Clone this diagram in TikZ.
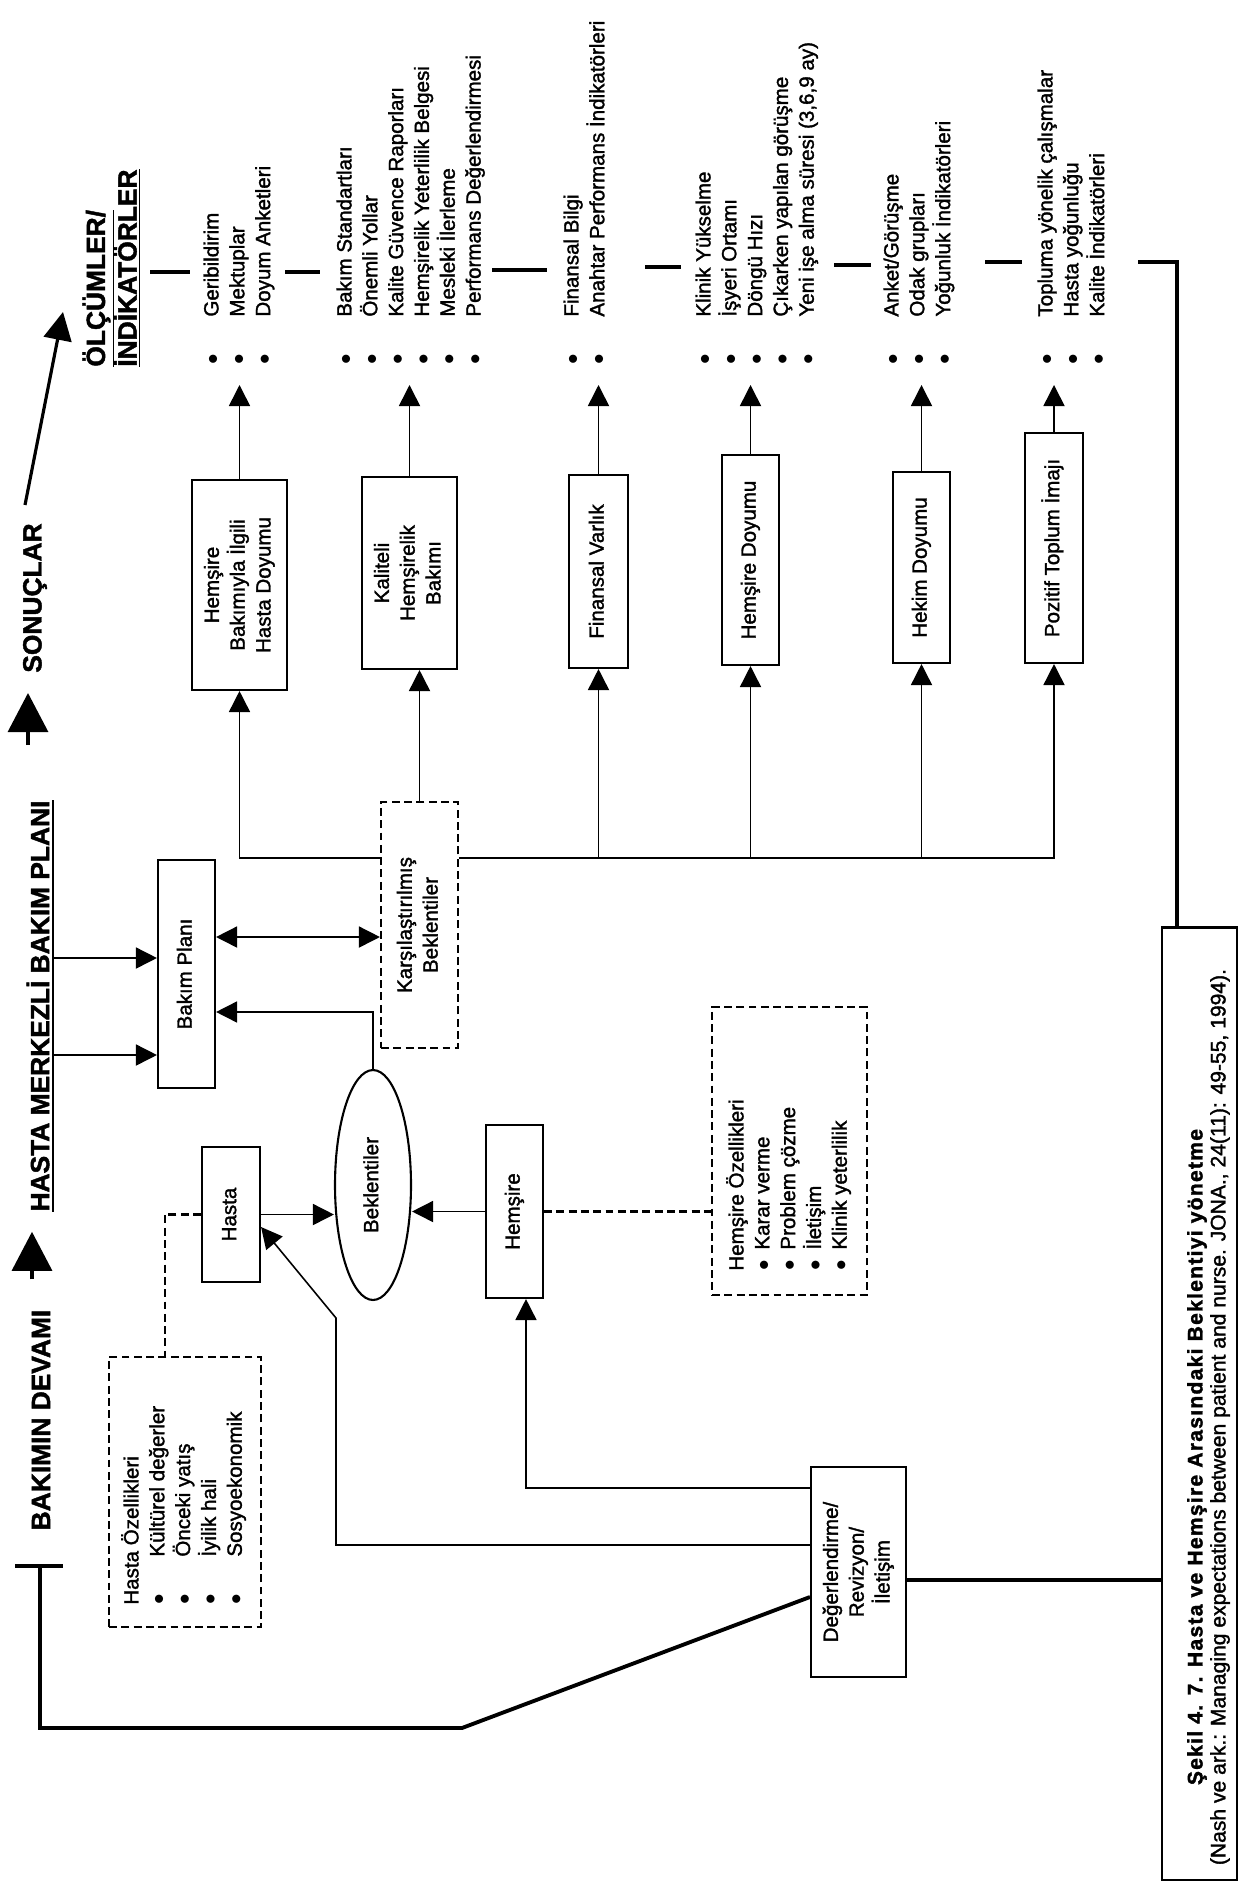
\documentclass[tikz,border=0pt]{standalone}
\usepackage{fontspec}
\setmainfont{Liberation Sans}
\newfontfamily\kalinyazi{Liberation Sans}[FakeBold=1.6]
\usepackage{graphicx}
\usetikzlibrary{shapes.geometric,arrows.meta}

\newcommand{\govde}{\kalinyazi\fontsize{11.7pt}{14.7pt}\selectfont}
\newcommand{\baslik}{\fontsize{15pt}{17pt}\selectfont\bfseries}
\newcommand{\dik}[1]{\rotatebox{90}{\begin{tabular}{@{}c@{}}#1\end{tabular}}}
\newcommand{\dikliste}[2]{\rotatebox{90}{\begin{tabular}{@{}l@{\hspace{#1}}l@{}}#2\end{tabular}}}

\tikzset{
  kutu/.style={draw, line width=1.2pt, inner sep=0pt},
  kesik/.style={draw, line width=1.2pt, dash pattern=on 4.5pt off 2.5pt, inner sep=0pt},
  kesikcizgi/.style={line width=1.2pt, dash pattern=on 4.5pt off 2.5pt},
  ok/.style={line width=0.9pt, -{Triangle[length=12pt,width=12pt]}},
  ciftok/.style={line width=0.9pt, {Triangle[length=12pt,width=12pt]}-{Triangle[length=12pt,width=12pt]}},
  ok2/.style={line width=1.8pt, -{Triangle[length=0.56cm,width=0.56cm]}},
  buyukok/.style={line width=1.8pt, -{Triangle[length=0.78cm,width=0.8cm]}},
  kalin/.style={line width=2.2pt},
}

\begin{document}
\begin{tikzpicture}[x=0.02cm, y=-0.02cm, font=\govde]
\useasboundingbox (0,0) rectangle (1239,1886);

% basliklar
\node[inner sep=0, anchor=south] (olc) at (114,367) {\baslik\rotatebox{90}{\begin{tabular}{@{}l@{}}\underline{ÖLÇÜMLER/}\\\underline{İNDİKATÖRLER}\end{tabular}}};
\node[inner sep=0] (son) at (35,598) {\baslik\rotatebox{90}{SONUÇLAR}};
\node[inner sep=0] (hm) at (38,1006) {\baslik\rotatebox{90}{HASTA MERKEZLİ BAKIM PLANI}};
\node[inner sep=0] (bd) at (41,1420) {\baslik\rotatebox{90}{BAKIMIN DEVAMI}};
\draw[line width=1.2pt] ([xshift=0.06cm]hm.north east) -- ([xshift=0.06cm]hm.south east);

\draw[buyukok, shorten <=0.6cm, shorten >=0.4cm] ([xshift=-0.18cm]bd.north) -- ([xshift=-0.18cm]bd.north |- hm.south);
\draw[buyukok, shorten <=1.1cm, shorten >=0.4cm] ([xshift=-0.2cm]hm.north) -- ([xshift=-0.2cm]hm.north |- son.south);
\coordinate (oc) at (63,312);
\draw[ok2] ([xshift=-0.2cm,yshift=0.36cm]son.north) -- (oc);

% sonuclar
\node[kutu, minimum width=1.9cm, minimum height=4.2cm] (b1) at (239.5,585) {\dik{Hemşire\\Bakımıyla İlgili\\Hasta Doyumu}};
\node[kutu, minimum width=1.9cm, minimum height=3.84cm] (b2) at (409.5,573) {\dik{Kaliteli\\Hemşirelik\\Bakımı}};
\node[kutu, minimum width=1.18cm, minimum height=3.86cm] (b3) at (598.5,571.5) {\dik{Finansal Varlık}};
\node[kutu, minimum width=1.14cm, minimum height=4.2cm] (b4) at (750.5,560) {\dik{Hemşire Doyumu}};
\node[kutu, minimum width=1.14cm, minimum height=3.82cm] (b5) at (921.5,567.5) {\dik{Hekim Doyumu}};
\node[kutu, minimum width=1.16cm, minimum height=4.6cm] (b6) at (1054,548) {\dik{Pozitif Toplum İmajı}};

% olcumler
\node[inner sep=0, anchor=south west] (l1) at (200,365) {\dikliste{0.75cm}{$\bullet$ & Geribildirim\\ $\bullet$ & Mektuplar\\ $\bullet$ & Doyum Anketleri}};
\node[inner sep=0, anchor=south west] (l2) at (333,365) {\dikliste{0.75cm}{$\bullet$ & Bakım Standartları\\ $\bullet$ & Önemli Yollar\\ $\bullet$ & Kalite Güvence Raporları\\ $\bullet$ & Hemşirelik Yeterlilik Belgesi\\ $\bullet$ & Mesleki İlerleme\\ $\bullet$ & Performans Değerlendirmesi}};
\node[inner sep=0, anchor=south west] (l3) at (560,365) {\dikliste{0.75cm}{$\bullet$ & Finansal Bilgi\\ $\bullet$ & Anahtar Performans İndikatörleri}};
\node[inner sep=0, anchor=south west] (l4) at (692,365) {\dikliste{0.75cm}{$\bullet$ & Klinik Yükselme\\ $\bullet$ & İşyeri Ortamı\\ $\bullet$ & Döngü Hızı\\ $\bullet$ & Çıkarken yapılan görüşme\\ $\bullet$ & Yeni işe alma süresi (3,6,9 ay)}};
\node[inner sep=0, anchor=south west] (l5) at (880,365) {\dikliste{0.75cm}{$\bullet$ & Anket/Görüşme\\ $\bullet$ & Odak grupları\\ $\bullet$ & Yoğunluk İndikatörleri}};
\node[inner sep=0, anchor=south west] (l6) at (1034,365) {\dikliste{0.75cm}{$\bullet$ & Topluma yönelik çalışmalar\\ $\bullet$ & Hasta yoğunluğu\\ $\bullet$ & Kalite İndikatörleri}};

\foreach \b/\l in {b1/l1,b2/l2,b3/l3,b4/l4,b5/l5,b6/l6}
  \draw[ok, shorten >=0.4cm] (\b.north) -- (\b.north |- \l.south);

% ayraclar
\foreach \a/\b/\y in {150/190/272, 285/320/272, 492/547/270, 645/681/267, 834/871/265, 985/1022/262}
  \draw[kalin] (\a,\y) -- (\b,\y);

% bakim plani ve beklentiler
\node[kutu, minimum width=1.14cm, minimum height=4.56cm] (bp) at (186.5,974) {\dik{Bakım Planı}};
\node[kesik, minimum width=1.54cm, minimum height=4.92cm] (kb) at (419.5,925) {\dik{Karşılaştırılmış\\Beklentiler}};
\node[kutu, ellipse, minimum width=1.52cm, minimum height=4.6cm] (bek) at (373,1185) {\dik{Beklentiler}};
\node[kutu, minimum width=1.16cm, minimum height=2.7cm] (has) at (231,1214.5) {\dik{Hasta}};
\node[kutu, minimum width=1.14cm, minimum height=3.46cm] (hem) at (514.5,1211.5) {\dik{Hemşire}};
\node[kutu, minimum width=1.9cm, minimum height=4.2cm] (deg) at (858.5,1572) {\dik{Değerlendirme/\\Revizyon/\\İletişim}};

\node[kesik, minimum width=3.04cm, minimum height=5.4cm] (hao) at (185,1492) {};
\node[inner sep=0, anchor=south west] (haot) at (120,1605) {\dikliste{0.75cm}{\multicolumn{2}{@{}l@{}}{Hasta Özellikleri}\\ $\bullet$ & Kültürel değerler\\ $\bullet$ & Önceki yatış\\ $\bullet$ & İyilik hali\\ $\bullet$ & Sosyoekonomik}};
\node[kesik, minimum width=3.1cm, minimum height=5.76cm] (ho) at (789.5,1151) {};
\node[inner sep=0, anchor=south west] (hot) at (725,1271) {\dikliste{0.21cm}{\multicolumn{2}{@{}l@{}}{Hemşire Özellikleri}\\ $\bullet$ & Karar verme\\ $\bullet$ & Problem çözme\\ $\bullet$ & İletişim\\ $\bullet$ & Klinik yeterlilik}};

% kaynak
\node[kutu, line width=1.6pt, minimum width=1.5cm, minimum height=19.06cm] (cap) at (1199.5,1403.5) {};
\node[inner sep=0] (cap1) at (1197,1457) {\fontsize{12pt}{14pt}\selectfont\bfseries\addfontfeature{LetterSpace=6}\rotatebox{90}{Şekil 4. 7. Hasta ve Hemşire Arasındaki Beklentiyi yönetme}};
\node[inner sep=0] (cap2) at (1220,1417) {\fontsize{12pt}{14pt}\selectfont\rotatebox{90}{(Nash ve ark.: Managing expectations between patient and nurse. JONA., 24(11): 49-55, 1994).}};

% baglantilar
\coordinate (u1) at (hm.east |- 0,958);
\coordinate (u2) at (hm.east |- 0,1055);
\draw[ok] ([xshift=0.06cm]u1) -- (u1 -| bp.west);
\draw[ok] ([xshift=0.06cm]u2) -- (u2 -| bp.west);
\draw[ciftok] ([yshift=0.74cm]bp.east) -- ([yshift=0.74cm]bp.east -| kb.west);
\coordinate (busl) at ([yshift=1.34cm]kb.west);
\coordinate (busr) at ([yshift=1.34cm]kb.east);
\draw[ok] (busl) -| (b1.south);
\draw[ok] (kb.north) -- (kb.north |- b2.south);
\draw[ok] (busr) -| (b6.south);
\foreach \b in {b3,b4,b5}
  \draw[ok] (busr -| \b.south) -- (\b.south);

\draw[ok] (has.east) -- (has.east -| bek.west);
\draw[ok] (hem.west) -- (hem.west -| bek.east);
\draw[ok] (bek.north) |- ([yshift=-0.76cm]bp.east);
\draw[kesikcizgi] (has.west) -| ([xshift=-0.4cm]hao.north);
\draw[kesikcizgi] (hem.east) -- (hem.east -| ho.west);

\draw[ok] ([yshift=1.68cm]deg.west) -| ([xshift=0.23cm]hem.south);
\coordinate (k1) at (336,1318);
\draw[ok] ([yshift=0.54cm]deg.west) -| (k1) -- ([yshift=-0.25cm]has.east);
\coordinate (k2) at (462,1728);
\coordinate (k3) at (40,1728);
\coordinate (k4) at (40,1566);
\draw[kalin] ([yshift=-0.5cm]deg.west) -- (k2) -- (k3) -- (k4);
\draw[kalin] ([xshift=-0.5cm]k4) -- ([xshift=0.46cm]k4);
\draw[kalin] ([yshift=-0.16cm]deg.east) -- ([yshift=-0.16cm]deg.east -| cap.west);
\draw[kalin] (1138,262) -| ([xshift=-0.45cm]cap.north);

\end{tikzpicture}
\end{document}
